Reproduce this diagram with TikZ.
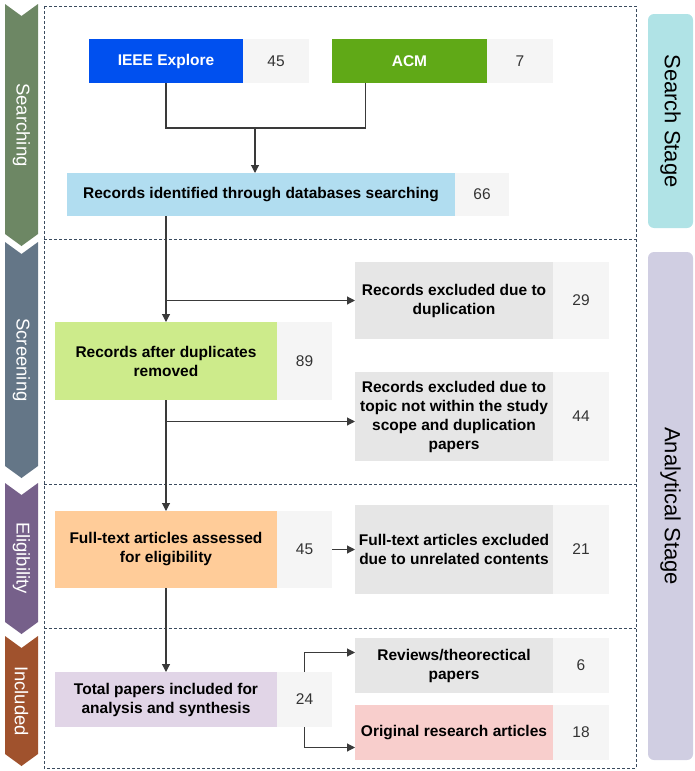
\documentclass[tikz,border=0pt]{standalone}
\usepackage{fontspec}
\setmainfont{Liberation Sans}
\usetikzlibrary{positioning,arrows.meta}

\definecolor{ieeeblue}{HTML}{0050EF}
\definecolor{acmgreen}{HTML}{60A917}
\definecolor{idblue}{HTML}{B1DDF0}
\definecolor{numgray}{HTML}{F5F5F5}
\definecolor{numtext}{HTML}{333333}
\definecolor{dupgreen}{HTML}{CDEB8B}
\definecolor{exgray}{HTML}{E6E6E6}
\definecolor{fullorange}{HTML}{FFCC99}
\definecolor{totalpurple}{HTML}{E1D5E7}
\definecolor{origred}{HTML}{F8CECC}
\definecolor{searchgreen}{HTML}{6D8764}
\definecolor{screengray}{HTML}{647687}
\definecolor{eligpurple}{HTML}{76608A}
\definecolor{inclbrown}{HTML}{A0522D}
\definecolor{stageteal}{HTML}{B0E3E6}
\definecolor{stagelilac}{HTML}{D0CEE2}
\definecolor{linecol}{HTML}{3A3A3A}
\definecolor{framecol}{HTML}{3B4B5E}

\begin{document}
\begin{tikzpicture}[x=1pt,y=-1pt,>={Triangle[length=8pt,width=8pt]},
	stepbox/.style={rectangle,outer sep=0pt,inner sep=2pt,align=center,
		font=\fontsize{15.5}{19}\selectfont\bfseries},
	numbox/.style={rectangle,outer sep=0pt,fill=numgray,text=numtext,
		font=\fontsize{15.5}{19}\selectfont},
	chevlabel/.style={rotate=-90,text=white,font=\fontsize{18.5}{20}\selectfont},
	stagebox/.style={rectangle,rounded corners=6pt,rotate=-90,
		font=\fontsize{22}{24}\selectfont},
	conn/.style={draw=linecol,line width=1.1pt},
	frame/.style={draw=framecol,line width=0.7pt,dash pattern=on 3pt off 2pt}]
	\useasboundingbox (0,0) rectangle (695,771);
	\draw[frame] (44,6) rectangle (636,768);
	\draw[frame] (44,239) -- (636,239);
	\draw[frame] (44,484) -- (636,484);
	\draw[frame] (44,628) -- (636,628);
	\fill[searchgreen] (5,4) -- (21.5,16) -- (38,4) -- (38,234) -- (21.5,246) -- (5,234) -- cycle;
	\fill[screengray] (5,242) -- (21.5,254) -- (38,242) -- (38,466) -- (21.5,478) -- (5,466) -- cycle;
	\fill[eligpurple] (5,483) -- (21.5,495) -- (38,483) -- (38,622) -- (21.5,634) -- (5,622) -- cycle;
	\fill[inclbrown] (5,636) -- (21.5,648) -- (38,636) -- (38,754) -- (21.5,766) -- (5,754) -- cycle;
	\node[chevlabel] (searching) at (21.5,125) {Searching};
	\node[chevlabel] (screening) at (21.5,360) {Screening};
	\node[chevlabel] (eligibility) at (21.5,558) {Eligibility};
	\node[chevlabel] (included) at (21.5,701) {Included};
	\node[stagebox,fill=stageteal,minimum width=214pt,minimum height=45pt] (searchstage) at (670.5,121) {Search Stage};
	\node[stagebox,fill=stagelilac,minimum width=508pt,minimum height=45pt] (analyticstage) at (670.5,506) {Analytical Stage};
	\node[stepbox,fill=ieeeblue,text=white,minimum width=154pt,minimum height=44pt] (ieee) at (166,61) {IEEE Explore};
	\node[numbox,minimum width=66pt,minimum height=44pt,right=0pt of ieee] (n45a) {45};
	\node[stepbox,fill=acmgreen,text=white,minimum width=155pt,minimum height=44pt] (acm) at (409.5,61) {ACM};
	\node[numbox,minimum width=66pt,minimum height=44pt,right=0pt of acm] (n7) {7};
	\node[stepbox,fill=idblue,minimum width=388pt,minimum height=43pt] (recid) at (261,194.5) {Records identified through databases searching};
	\node[numbox,minimum width=54pt,minimum height=43pt,right=0pt of recid] (n66) {66};
	\node[stepbox,fill=dupgreen,minimum width=222pt,minimum height=78pt] (recdup) at (166,361) {Records after duplicates\\removed};
	\node[numbox,minimum width=55pt,minimum height=78pt,right=0pt of recdup] (n89) {89};
	\node[stepbox,fill=exgray,minimum width=198pt,minimum height=77pt] (exdup) at (454,300.5) {Records excluded due to\\duplication};
	\node[numbox,minimum width=56pt,minimum height=77pt,right=0pt of exdup] (n29) {29};
	\node[stepbox,fill=exgray,minimum width=198pt,minimum height=89pt] (extopic) at (454,416.5) {Records excluded due to\\topic not within the study\\scope and duplication\\papers};
	\node[numbox,minimum width=56pt,minimum height=89pt,right=0pt of extopic] (n44) {44};
	\node[stepbox,fill=fullorange,minimum width=222pt,minimum height=77pt] (fulltext) at (166,549.5) {Full-text articles assessed\\for eligibility};
	\node[numbox,minimum width=55pt,minimum height=77pt,right=0pt of fulltext] (n45b) {45};
	\node[stepbox,fill=exgray,minimum width=198pt,minimum height=89pt] (exfull) at (454,549.5) {Full-text articles excluded\\due to unrelated contents};
	\node[numbox,minimum width=56pt,minimum height=89pt,right=0pt of exfull] (n21) {21};
	\node[stepbox,fill=totalpurple,minimum width=222pt,minimum height=55pt] (total) at (166,699.5) {Total papers included for\\analysis and synthesis};
	\node[numbox,minimum width=55pt,minimum height=55pt,right=0pt of total] (n24) {24};
	\node[stepbox,fill=exgray,minimum width=198pt,minimum height=55pt] (reviews) at (454,665.5) {Reviews/theorectical\\papers};
	\node[numbox,minimum width=56pt,minimum height=55pt,right=0pt of reviews] (n6) {6};
	\node[stepbox,fill=origred,minimum width=198pt,minimum height=55pt] (original) at (454,732.5) {Original research articles};
	\node[numbox,minimum width=56pt,minimum height=55pt,right=0pt of original] (n18) {18};
	\coordinate (join) at (255,128);
	\draw[conn] (ieee.south) |- (join);
	\draw[conn] ([xshift=-44pt]acm.south) |- (join);
	\draw[conn,->] (join) -- (join |- recid.north);
	\draw[conn,->] (recid.south -| recdup.north) -- (recdup.north);
	\draw[conn,->] (recdup.north |- exdup.west) -- (exdup.west);
	\draw[conn,->] (recdup.south) -- (fulltext.north);
	\draw[conn,->] ([yshift=-5pt]recdup.south |- extopic.west) -- ([yshift=-5pt]extopic.west);
	\draw[conn,->] (n45b.east) -- (exfull.west);
	\draw[conn,->] (fulltext.south) -- (total.north);
	\draw[conn,->] (n24.north) |- ([yshift=13pt]reviews.west);
	\draw[conn,->] (n24.south) |- ([yshift=-15pt]original.west);
\end{tikzpicture}
\end{document}
